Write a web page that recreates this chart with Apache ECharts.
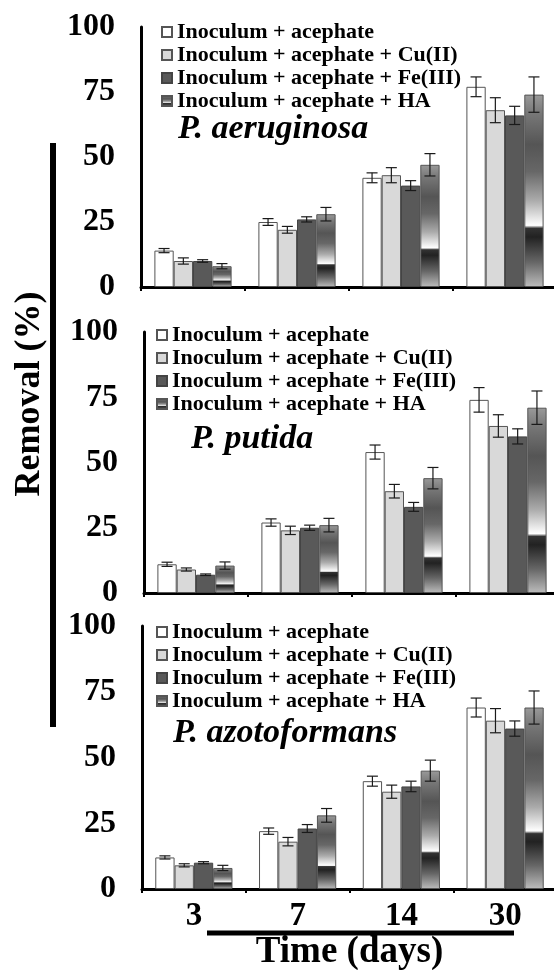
<!DOCTYPE html>
<html>
<head>
<meta charset="utf-8">
<script src="https://cdn.jsdelivr.net/npm/echarts@6/dist/echarts.min.js"></script>
<style>
  html, body { margin: 0; padding: 0; background: #fff; }
  #main { width: 554px; height: 970px; }
</style>
</head>
<body>
<div id="main"></div>
<script>
// categories and series
const days = ['3', '7', '14', '30']
const treatments = [
    'Inoculum + acephate',
    'Inoculum + acephate + Cu(II)',
    'Inoculum + acephate + Fe(III)',
    'Inoculum + acephate + HA'
]
const species = ['P. aeruginosa', 'P. putida', 'P. azotoformans']

// removal (%) per treatment, one row per treatment, one value per day
const aeruginosaMeans = [[14, 25, 42, 77], [10, 22, 43, 68], [10, 26, 39, 66], [8, 28, 47, 74]]
const aeruginosaErrors = [[0.8, 1.3, 1.9, 3.8], [1.2, 1.3, 2.9, 4.8], [0.5, 1.0, 1.9, 3.5], [1.0, 2.6, 4.3, 6.8]]
const putidaMeans = [[11, 27, 54, 74], [9, 24, 39, 64], [7, 25, 33, 60], [10.5, 26, 44, 71]]
const putidaErrors = [[0.8, 1.4, 2.7, 4.7], [0.6, 1.6, 2.6, 4.3], [0.3, 1.0, 1.7, 2.9], [1.4, 2.6, 4.1, 6.4]]
const azotoMeans = [[12, 22, 41, 69], [9, 18, 37, 64], [10, 23, 39, 61], [8, 28, 45, 69]]
const azotoErrors = [[0.6, 1.2, 1.9, 3.6], [0.6, 1.6, 2.5, 4.6], [0.4, 1.5, 2.0, 2.9], [1.0, 2.6, 4.0, 6.3]]

const yTicks = [0, 25, 50, 75, 100]

const allMeans = [aeruginosaMeans, putidaMeans, azotoMeans]
const allErrors = [aeruginosaErrors, putidaErrors, azotoErrors]

var myChart = echarts.init(document.getElementById('main'))

const serif = 'Liberation Serif'
const barW = 19.3

// the last category runs past the right edge of the picture, as in the original
const grids = [
    { left: 141, top: 27, width: 416, height: 260, outerBoundsMode: 'none' },
    { left: 144, top: 332, width: 416, height: 261, outerBoundsMode: 'none' },
    { left: 142, top: 626, width: 415, height: 263, outerBoundsMode: 'none' }
]

// the "chrome" fill used for the HA bars
function haFill() {
    return new echarts.graphic.LinearGradient(0, 0, 0, 1, [
        { offset: 0, color: '#9a9a9a' },
        { offset: 0.1, color: '#777' },
        { offset: 0.26, color: '#555' },
        { offset: 0.4, color: '#676767' },
        { offset: 0.55, color: '#ababab' },
        { offset: 0.65, color: '#ececec' },
        { offset: 0.68, color: '#ffffff' },
        { offset: 0.695, color: '#333' },
        { offset: 0.74, color: '#222' },
        { offset: 0.87, color: '#666' },
        { offset: 1, color: '#bdbdbd' }
    ])
}

const barStyles = [
    { color: '#ffffff', borderColor: '#555', borderWidth: 1 },
    { color: '#d9d9d9', borderColor: '#555', borderWidth: 1 },
    { color: '#595959', borderColor: '#444', borderWidth: 1 },
    { color: haFill(), borderColor: '#555', borderWidth: 1 }
]

let series = []
allMeans.forEach((means, g) => {
    means.forEach((row, s) => {
        series.push({
            name: treatments[s],
            type: 'bar',
            xAxisIndex: g,
            yAxisIndex: g,
            barWidth: barW,
            barGap: '0%',
            data: row,
            itemStyle: barStyles[s],
            emphasis: { disabled: true }
        })
    })
    // error bars
    let errData = []
    means.forEach((row, s) => {
        row.forEach((v, c) => errData.push([c, v, allErrors[g][s][c], s]))
    })
    series.push({
        type: 'custom',
        xAxisIndex: g,
        yAxisIndex: g,
        z: 10,
        silent: true,
        clip: false,
        data: errData,
        renderItem: function (params, api) {
            let off = (api.value(3) - 1.5) * barW
            let hi = api.coord([api.value(0), api.value(1) + api.value(2)])
            let lo = api.coord([api.value(0), api.value(1) - api.value(2)])
            let x = hi[0] + off
            let cap = 5.5
            let st = { stroke: '#1a1a1a', lineWidth: 1.2 }
            return {
                type: 'group',
                children: [
                    { type: 'line', shape: { x1: x, y1: hi[1], x2: x, y2: lo[1] }, style: st },
                    { type: 'line', shape: { x1: x - cap, y1: hi[1], x2: x + cap, y2: hi[1] }, style: st },
                    { type: 'line', shape: { x1: x - cap, y1: lo[1], x2: x + cap, y2: lo[1] }, style: st }
                ]
            }
        }
    })
})

const legendPos = [[161, 21], [156, 324], [156, 621]]
const titlePos = [[178, 112], [191, 422], [173, 716]]

var option = {
    backgroundColor: '#fff',
    animation: false,
    grid: grids,
    title: species.map((t, i) => ({
        text: t,
        left: titlePos[i][0],
        top: titlePos[i][1],
        padding: 0,
        textStyle: { fontFamily: serif, fontStyle: 'italic', fontWeight: 'bold', fontSize: 34, color: '#000' }
    })),
    legend: legendPos.map((p, i) => ({
        data: treatments,
        orient: 'vertical',
        left: p[0],
        top: p[1],
        padding: 0,
        itemWidth: 10,
        itemHeight: 10,
        itemGap: 1,
        icon: 'rect',
        selectedMode: false,
        textStyle: { fontFamily: serif, fontWeight: 'bold', fontSize: 22, lineHeight: 22, color: '#000' }
    })),
    xAxis: grids.map((gr, i) => ({
        type: 'category',
        gridIndex: i,
        data: days,
        axisLine: { lineStyle: { color: '#000', width: 3 } },
        axisTick: { show: true, length: 4, lineStyle: { color: '#000', width: 2 } },
        axisLabel: {
            show: i === 2,
            fontFamily: serif, fontWeight: 'bold', fontSize: 33, color: '#000', margin: 11
        },
        name: i === 2 ? 'Time (days)' : '',
        nameLocation: 'middle',
        nameGap: 44,
        nameTextStyle: { fontFamily: serif, fontWeight: 'bold', fontSize: 37, color: '#000' }
    })),
    yAxis: grids.map((gr, i) => ({
        type: 'value',
        gridIndex: i,
        min: yTicks[0],
        max: yTicks[yTicks.length - 1],
        interval: 25,
        splitLine: { show: false },
        axisLine: { show: true, lineStyle: { color: '#000', width: 3 } },
        axisTick: { show: false },
        axisLabel: { fontFamily: serif, fontWeight: 'bold', fontSize: 32, color: '#000', margin: 26 }
    })),
    graphic: [
        // decorative bars beside the axis titles
        { type: 'line', shape: { x1: 53, y1: 143, x2: 53, y2: 727 }, style: { stroke: '#000', lineWidth: 6 } },
        { type: 'line', shape: { x1: 207, y1: 933, x2: 514, y2: 933 }, style: { stroke: '#000', lineWidth: 5 } },
        {
            type: 'text',
            x: 30, y: 394,
            rotation: Math.PI / 2,
            style: {
                text: 'Removal (%)',
                fontFamily: serif, fontWeight: 'bold', fontSize: 36, fill: '#000',
                textAlign: 'center', textVerticalAlign: 'middle'
            }
        }
    ],
    series: series
}

myChart.setOption(option)
</script>
</body>
</html>
